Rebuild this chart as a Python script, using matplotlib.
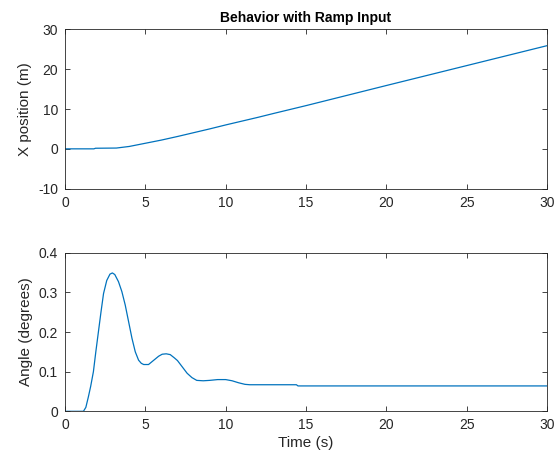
import matplotlib.pyplot as plt

plt.rcParams['font.family'] = ['Liberation Sans', 'DejaVu Sans']
plt.rcParams['axes.unicode_minus'] = False

# data
t_pos = [0, 1.8, 1.9, 3.2, 4.0, 5, 6, 7, 8, 9, 10, 11, 12, 13, 15, 20, 25, 30]
x_pos = [0, 0, 0.15, 0.2, 0.6, 1.4, 2.2, 3.1, 4.05, 5.0, 6.0, 6.95, 7.9, 8.9, 10.85, 15.9, 20.9, 25.9]

t_ang = [0, 1.15, 1.3, 1.46, 1.6, 1.77, 1.92, 2.08, 2.24, 2.4, 2.6, 2.8, 2.95, 3.1,
         3.33, 3.54, 3.75, 3.96, 4.17, 4.375, 4.58, 4.75, 4.9, 5.2, 5.5, 5.83, 6.05,
         6.3, 6.55, 6.8, 7.0, 7.3, 7.6, 7.9, 8.2, 8.6, 9.0, 9.5, 10.0, 10.4, 10.8,
         11.2, 11.5, 14.4, 14.5, 30]
angle = [0, 0, 0.01, 0.037, 0.063, 0.10, 0.15, 0.20, 0.25, 0.297, 0.33, 0.346,
         0.349, 0.345, 0.327, 0.302, 0.268, 0.226, 0.184, 0.150, 0.129, 0.121, 0.118,
         0.118, 0.128, 0.139, 0.144, 0.145, 0.143, 0.135, 0.128, 0.112, 0.096,
         0.085, 0.078, 0.077, 0.078, 0.080, 0.080, 0.077, 0.072, 0.068, 0.067, 0.067,
         0.064, 0.064]

line_c = '#0072BD'
ax_c = '#262626'

fig = plt.figure(figsize=(5.6, 4.61), dpi=100)
ax1 = fig.add_axes([0.116, 0.5907, 0.861, 0.3457])
ax2 = fig.add_axes([0.116, 0.1078, 0.861, 0.344])

def style(ax):
    ax.tick_params(direction='in', top=True, right=True, colors=ax_c,
                   labelsize=10, length=3.5, width=0.6, pad=5)
    for s in ax.spines.values():
        s.set_color(ax_c)
        s.set_linewidth(0.6)

ax1.plot(t_pos, x_pos, color=line_c, lw=0.9)
ax1.set_xlim(0, 30)
ax1.set_ylim(-10, 30)
ax1.set_xticks([0, 5, 10, 15, 20, 25, 30])
ax1.set_yticks([-10, 0, 10, 20, 30])
ax1.set_ylabel('X position (m)', fontsize=11, color=ax_c, labelpad=4)
ax1.set_title('Behavior with Ramp Input', fontsize=10, fontweight='bold', pad=5)
style(ax1)

ax2.plot(t_ang, angle, color=line_c, lw=0.9)
ax2.set_xlim(0, 30)
ax2.set_ylim(0, 0.4)
ax2.set_xticks([0, 5, 10, 15, 20, 25, 30])
ax2.set_yticks([0, 0.1, 0.2, 0.3, 0.4])
ax2.set_yticklabels(['0', '0.1', '0.2', '0.3', '0.4'])
ax2.set_ylabel('Angle (degrees)', fontsize=11, color=ax_c, labelpad=4)
ax2.set_xlabel('Time (s)', fontsize=11, color=ax_c, labelpad=3)
style(ax2)

fig.savefig('out.png', dpi=100)
